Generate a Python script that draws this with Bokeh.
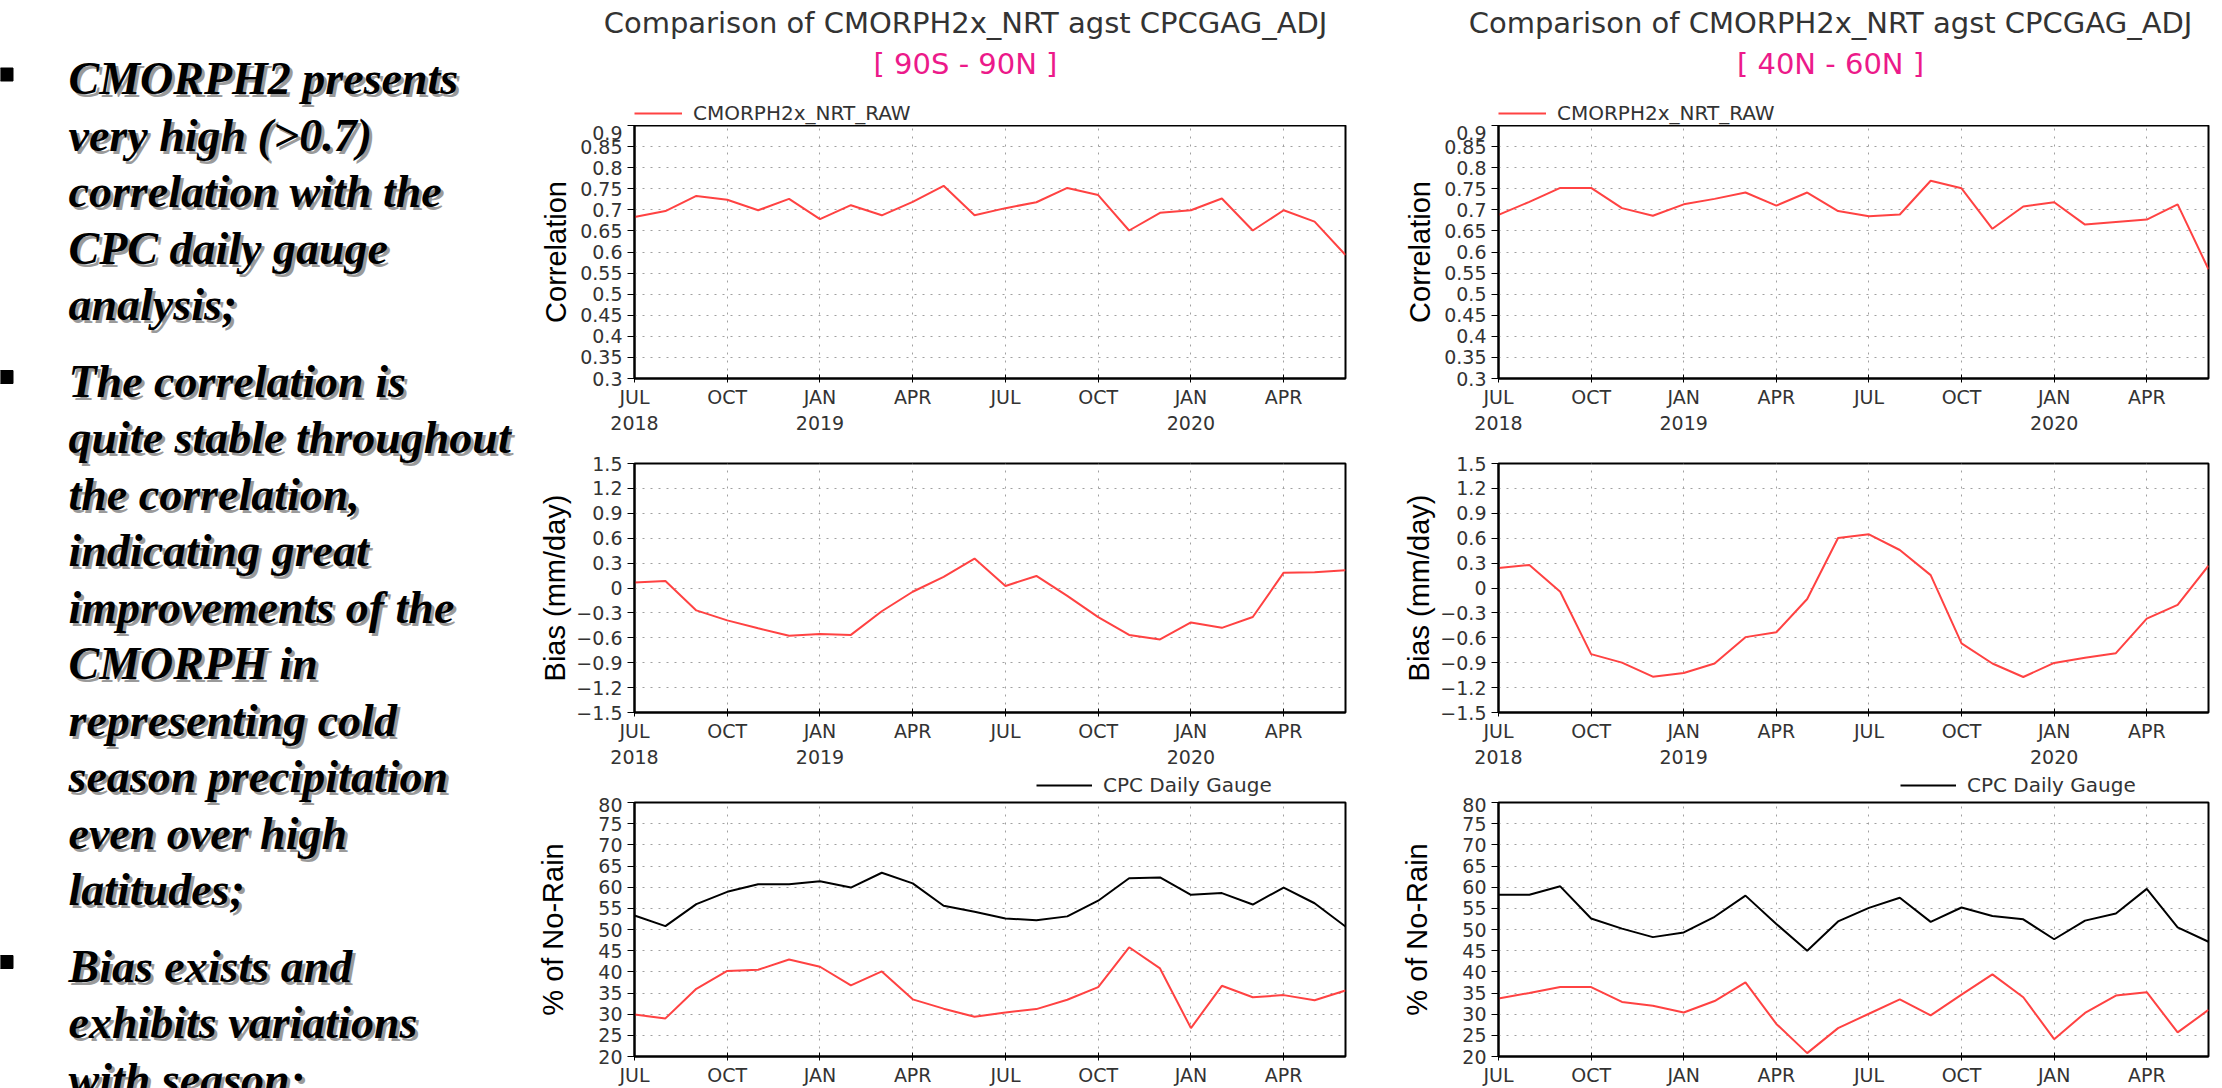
import numpy as np
from bokeh.plotting import figure
from bokeh.layouts import row, column
from bokeh.models import (Range1d, FixedTicker, CustomJSTickFormatter, Legend, LegendItem)
from bokeh.core.properties import value
from bokeh.embed import file_html
from bokeh.resources import INLINE

# ---------------- data ----------------
months = list(range(24))  # Jul 2018 .. Jun 2020, monthly
x_tick_idx = [0, 3, 6, 9, 12, 15, 18, 21]
x_tick_labels = ["JUL\n2018", "OCT", "JAN\n2019", "APR", "JUL", "OCT", "JAN\n2020", "APR"]
x_tick_labels_bottom = ["JUL", "OCT", "JAN", "APR", "JUL", "OCT", "JAN", "APR"]

corr_ticks = [0.3, 0.35, 0.4, 0.45, 0.5, 0.55, 0.6, 0.65, 0.7, 0.75, 0.8, 0.85, 0.9]
bias_ticks = [-1.5, -1.2, -0.9, -0.6, -0.3, 0.0, 0.3, 0.6, 0.9, 1.2, 1.5]
norain_ticks = [20, 25, 30, 35, 40, 45, 50, 55, 60, 65, 70, 75, 80]

# [90S - 90N]
corr_glb = [0.683, 0.697, 0.733, 0.724, 0.699, 0.726, 0.678, 0.711, 0.687, 0.719, 0.757, 0.687,
            0.704, 0.718, 0.752, 0.735, 0.651, 0.693, 0.699, 0.727, 0.651, 0.699, 0.672, 0.593]
bias_glb = [0.065, 0.085, -0.27, -0.39, -0.485, -0.575, -0.555, -0.565, -0.28, -0.045, 0.135, 0.355,
            0.025, 0.145, -0.095, -0.35, -0.565, -0.62, -0.415, -0.48, -0.35, 0.185, 0.19, 0.215]
norain_cpc_glb = [53.3, 50.8, 56.0, 58.9, 60.7, 60.7, 61.4, 59.9, 63.4, 60.9, 55.6, 54.2,
                  52.6, 52.2, 53.1, 56.8, 62.1, 62.3, 58.2, 58.6, 55.9, 59.9, 56.2, 50.7]
norain_cmorph_glb = [29.9, 29.0, 36.0, 40.2, 40.5, 42.9, 41.2, 36.8, 40.1, 33.5, 31.3, 29.4,
                     30.4, 31.2, 33.4, 36.4, 45.8, 40.8, 26.7, 36.7, 34.0, 34.5, 33.3, 35.6]

# [40N - 60N]
corr_mid = [0.688, 0.719, 0.752, 0.752, 0.704, 0.686, 0.713, 0.726, 0.741, 0.710, 0.741, 0.697,
            0.685, 0.689, 0.769, 0.751, 0.655, 0.708, 0.718, 0.665, 0.671, 0.677, 0.713, 0.559]
bias_mid = [0.242, 0.277, -0.045, -0.797, -0.899, -1.068, -1.025, -0.91, -0.592, -0.533, -0.132, 0.603,
            0.647, 0.458, 0.155, -0.667, -0.91, -1.072, -0.903, -0.84, -0.785, -0.368, -0.203, 0.269]
norain_cpc_mid = [58.2, 58.2, 60.2, 52.6, 50.2, 48.2, 49.3, 53.0, 58.0, 51.3, 45.0, 51.9,
                  55.1, 57.5, 51.8, 55.2, 53.2, 52.4, 47.7, 52.1, 53.8, 59.6, 50.5, 47.1]
norain_cmorph_mid = [33.7, 35.0, 36.4, 36.4, 32.9, 32.0, 30.4, 33.1, 37.5, 27.7, 20.8, 26.7,
                     30.1, 33.5, 29.7, 34.6, 39.4, 34.0, 24.1, 30.3, 34.4, 35.2, 25.7, 31.0]

main_title = "Comparison of CMORPH2x_NRT agst CPCGAG_ADJ"
region_titles = ["[ 90S - 90N ]", "[ 40N - 60N ]"]
series_cmorph = "CMORPH2x_NRT_RAW"
series_cpc = "CPC Daily Gauge"

bullets = [
    ["CMORPH2 presents", "very high (>0.7)", "correlation with the", "CPC daily gauge", "analysis;"],
    ["The correlation is", "quite stable throughout", "the correlation,", "indicating great",
     "improvements of the", "CMORPH in", "representing cold", "season precipitation",
     "even over high", "latitudes;"],
    ["Bias exists and", "exhibits variations", "with season;"],
]

# ---------------- style ----------------
RED = "#ff4242"
MAGENTA = "#ec1a8a"
TXT = "#333333"
TICK_FONT = "DejaVu Sans"
LAB_FONT = "DejaVu Sans"
AX_FONT = "Liberation Sans"

FMT = CustomJSTickFormatter(code="""
const a = Math.abs(tick);
const s = String(parseFloat(a.toFixed(2)));
return (tick < -1e-9 ? "\\u2212" : "") + s;
""")


def bare(width, height, xr, yr, bl=0, br=0):
    f = figure(width=width, height=height, x_range=xr, y_range=yr, title=None,
               x_axis_location=None, y_axis_location=None, frame_align=False,
               output_backend="svg", toolbar_location=None,
               min_border_left=bl, min_border_right=br, min_border_top=0, min_border_bottom=0)
    f.grid.visible = False
    f.outline_line_color = None
    f.background_fill_color = "white"
    f.border_fill_color = "white"
    return f


def legend_strip(width, height, bl, br, label, color, ys, glyph_w, standoff):
    # the legend entry refers to a hidden copy of the series line (kept off-frame)
    s = bare(width, height, Range1d(0, 23), Range1d(1000, 1001), bl, br)
    r = s.line(months, ys, line_color=color, line_width=2, visible=False)
    leg = Legend(items=[LegendItem(label=label, renderers=[r])],
                 location="bottom_left", orientation="horizontal", padding=0, margin=0,
                 border_line_alpha=0, background_fill_alpha=0,
                 glyph_width=glyph_w, glyph_height=20, label_standoff=standoff,
                 label_text_font=LAB_FONT, label_text_font_size="20px",
                 label_text_color=TXT)
    s.add_layout(leg)
    return s


def panel(width, height, bl, br, bt, bb, ylo, yhi, yticks, ylabel, lab_standoff,
          series, xlabels):
    p = figure(width=width, height=height, x_range=Range1d(0, 23), y_range=Range1d(ylo, yhi),
               title=None, output_backend="svg", toolbar_location=None, frame_align=False,
               min_border_left=bl, min_border_right=br, min_border_top=bt, min_border_bottom=bb)
    p.background_fill_color = "white"
    p.border_fill_color = "white"
    p.outline_line_color = "black"
    p.outline_line_width = 2
    for ys, col in series:
        p.line(months, ys, line_color=col, line_width=2)
    p.xaxis.ticker = FixedTicker(ticks=x_tick_idx)
    p.xaxis.major_label_overrides = {k: v for k, v in zip(x_tick_idx, xlabels)}
    p.xaxis.minor_tick_line_color = None
    p.xaxis.major_tick_in = 4
    p.xaxis.major_tick_out = 4
    p.xaxis.major_label_standoff = 3
    p.yaxis.ticker = FixedTicker(ticks=yticks)
    p.yaxis.formatter = FMT
    p.yaxis.minor_tick_line_color = None
    p.yaxis.major_tick_in = 0
    p.yaxis.major_tick_out = 7
    p.yaxis.major_label_standoff = 5
    for ax in (p.xaxis, p.yaxis):
        ax.axis_line_color = "black"
        ax.axis_line_width = 2
        ax.major_tick_line_color = "black"
        ax.major_label_text_font = TICK_FONT
        ax.major_label_text_font_size = "19px"
        ax.major_label_text_color = TXT
    p.yaxis.axis_label = ylabel
    p.yaxis.axis_label_text_font = AX_FONT
    p.yaxis.axis_label_text_font_size = "29px"
    p.yaxis.axis_label_text_font_style = "normal"
    p.yaxis.axis_label_text_color = "black"
    p.yaxis.axis_label_standoff = lab_standoff
    p.grid.grid_line_color = "#a0a0a0"
    p.grid.grid_line_dash = "2 6"
    p.grid.grid_line_width = 1
    return p


def header(width, height, cx, title, region):
    h = bare(width, height, Range1d(0, width), Range1d(height, 0))
    h.text(x=[cx], y=[22], text=[title], text_align="center", text_baseline="alphabetic",
           text_font=value(LAB_FONT), text_font_size="29px", text_color=TXT)
    h.text(x=[cx], y=[63], text=[region], text_align="center", text_baseline="alphabetic",
           text_font=value(LAB_FONT), text_font_size="29px", text_color=MAGENTA)
    return h


def make_column(width, bl, br, cx, region, corr, bias, cpc, cmorph):
    hdr = header(width, 101, cx, main_title, region)
    s1 = legend_strip(width, 24, bl, br, series_cmorph, RED, corr, 48, 11)
    p1 = panel(width, 311, bl, br, 0, 52, 0.3, 0.9, corr_ticks, "Correlation", 5,
               [(corr, RED)], x_tick_labels)
    p2 = panel(width, 334, bl, br, 27, 49, -1.5, 1.5, bias_ticks, "Bias (mm/day)", 2,
               [(bias, RED)], x_tick_labels)
    s2 = legend_strip(width, 27, bl + 402, br, series_cpc, "black", cpc, 56, 11)
    p3 = panel(width, 291, bl, br, 5, 29, 20, 80, norain_ticks, "% of No-Rain", 26,
               [(cpc, "black"), (cmorph, RED)], x_tick_labels_bottom)
    return column(hdr, s1, p1, p2, s2, p3, spacing=0)


# ---------------- left text panel ----------------
TW, TH = 525, 1088
t = bare(TW, TH, Range1d(0, TW), Range1d(TH, 0))
line_txt, line_y, bul_y, k = [], [], [], 0
for pi, para in enumerate(bullets):
    for li, ln in enumerate(para):
        yy = 78 + 56.5 * k + 20 * pi
        if li == 0:
            bul_y.append(yy - 4)
        line_txt.append(ln)
        line_y.append(yy)
        k += 1
t.text(x=[71] * len(line_txt), y=[yy + 3 for yy in line_y], text=line_txt, text_align="left",
       text_baseline="middle", text_font=value("Liberation Serif"), text_font_style="bold italic",
       text_font_size="46px", text_color="#9a9a9a")
t.text(x=[68] * len(line_txt), y=line_y, text=line_txt, text_align="left",
       text_baseline="middle", text_font=value("Liberation Serif"), text_font_style="bold italic",
       text_font_size="46px", text_color="black")
t.scatter(x=[6] * len(bul_y), y=bul_y, marker="square", size=13, fill_color="black", line_color="black")

c1 = make_column(870, 109, 50, 440, region_titles[0], corr_glb, bias_glb, norain_cpc_glb, norain_cmorph_glb)
c2 = make_column(827, 103, 14, 435, region_titles[1], corr_mid, bias_mid, norain_cpc_mid, norain_cmorph_mid)

layout = row(t, c1, c2, spacing=0)
open("out.html", "w").write(file_html(layout, INLINE))
